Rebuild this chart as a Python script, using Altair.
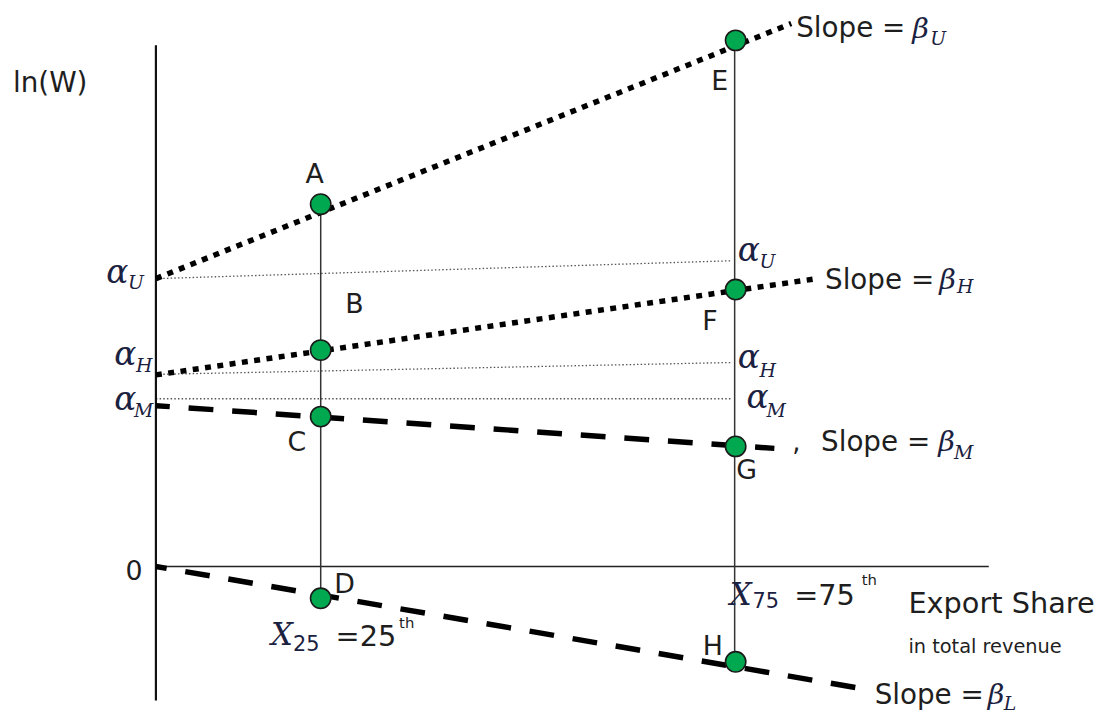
import altair as alt
import pandas as pd

# ---------------- data (x: export share axis units, y: ln(W) units) ----
X25 = 166
X75 = 583

# regression lines: start (intercept at x=0) and end points
line_names = ["U", "H", "M", "L"]
line_x0 = [0, 0, 0, 0]
line_y0 = [290, 193, 162, 0]
line_x1 = [640, 666, 623, 705]
line_y1 = [547, 290, 119, -122]
line_kind = ["dotted", "dotted", "dashed", "dashed"]

# thin guide lines from the intercepts across to X75
guide_x0 = [0, 0, 0]
guide_y0 = [290, 193.5, 169]
guide_x1 = [580, 580, 580]
guide_y1 = [308, 205.5, 169]

# axes and percentile verticals
frame_x0 = [0, 0, X25, X75]
frame_y0 = [525, 0, 363, 530]
frame_x1 = [0, 839, X25, X75]
frame_y1 = [-135, 0, -32, -96]

# points
pt_names = ["A", "B", "C", "D", "E", "F", "G", "H"]
pt_x = [X25, X25, X25, X25, X75 + 1, X75 + 1, X75 + 1, X75 + 1]
pt_y = [365, 218, 151, -32, 530, 279, 121, -96]

# point labels
lab_text = ["A", "B", "C", "D", "E", "F", "G", "H", "0"]
lab_x = [160, 200, 142, 190, 568, 558, 595, 561, -22]
lab_y = [386, 255, 116, -27, 480, 238, 88, -89, -14]

# slope labels
slope_text = ["Slope =", "Slope =", "Slope =", "Slope ="]
slope_x = [645, 674, 670, 724]
slope_y = [533, 280, 116, -139]
beta_x = [762, 789, 788, 838]
beta_y = [532, 280, 116, -139]
beta_sub = ["U", "H", "M", "L"]
beta_sub_x = [780, 807, 804, 854]
beta_sub_y = [525, 276, 108, -145]

# alpha labels (left of axis and at X75)
alpha_x = [-50, -42, -42, 586, 586, 595]
alpha_y = [286, 203, 158, 308, 200, 160]
alpha_sub = ["U", "H", "M", "U", "H", "M"]
alpha_sub_x = [-28, -20, -22, 608, 608, 615]
alpha_sub_y = [280, 196, 151, 301, 191, 151]

# percentile labels
pct_X_x = [116, 578]
pct_X_y = [-79, -39]
pct_sub = ["25", "75"]
pct_sub_x = [138, 601]
pct_sub_y = [-85, -42]
pct_eq = ["=25", "=75"]
pct_eq_x = [181, 643]
pct_eq_y = [-80, -39]
pct_th_x = [245, 711]
pct_th_y = [-62, -19]

# axis titles
ytitle = ("ln(W)", -144, 478)
xtitle = ("Export Share", 758, -47)
xsub = ("in total revenue", 758, -87)
comma = (",", 641, 116)

# ---------------- scales ----------------
W, H = 1096, 710
xs = alt.Scale(domain=[-149, 947], zero=False, nice=False)
ys = alt.Scale(domain=[-150, 560], zero=False, nice=False)

TXT = "#1e1e1e"
GREEK = "#1b2140"


def seg_df(x0, y0, x1, y1):
    return pd.DataFrame({"x": x0, "y": y0, "x2": x1, "y2": y1})


def rules(df, **mk):
    return alt.Chart(df).mark_rule(**mk).encode(
        x=alt.X("x:Q", scale=xs, axis=None),
        y=alt.Y("y:Q", scale=ys, axis=None),
        x2="x2:Q",
        y2="y2:Q",
    )


def texts(tx, x, y, font, size, style="normal", color=TXT, align="left"):
    df = pd.DataFrame({"t": tx, "x": x, "y": y})
    return alt.Chart(df).mark_text(
        font=font, fontSize=size, fontStyle=style, color=color,
        align=align, baseline="alphabetic"
    ).encode(
        x=alt.X("x:Q", scale=xs, axis=None),
        y=alt.Y("y:Q", scale=ys, axis=None),
        text="t:N",
    )


lines = pd.DataFrame({"x": line_x0, "y": line_y0, "x2": line_x1, "y2": line_y1, "kind": line_kind})

frame = rules(seg_df(frame_x0[:1], frame_y0[:1], frame_x1[:1], frame_y1[:1]), color="#111", strokeWidth=2.2)
xaxis = rules(seg_df(frame_x0[1:2], frame_y0[1:2], frame_x1[1:2], frame_y1[1:2]), color="#222", strokeWidth=1.6)
verts = rules(seg_df(frame_x0[2:], frame_y0[2:], frame_x1[2:], frame_y1[2:]), color="#333", strokeWidth=1.5)
guides = rules(seg_df(guide_x0, guide_y0, guide_x1, guide_y1), color="#555", strokeWidth=1.3, strokeDash=[1.5, 2.2])
dotted = rules(lines[lines.kind == "dotted"], color="#000", strokeWidth=5.5, strokeDash=[6, 6.5], strokeCap="butt")
dashed_m = rules(lines[lines.index == 2], color="#000", strokeWidth=5.5, strokeDash=[25, 19],
                 strokeDashOffset=11, strokeCap="butt")
dashed_l = rules(lines[lines.index == 3], color="#000", strokeWidth=5.5, strokeDash=[25, 19],
                 strokeDashOffset=14, strokeCap="butt")

pts = alt.Chart(pd.DataFrame({"n": pt_names, "x": pt_x, "y": pt_y})).mark_point(
    shape="circle", filled=True, size=420, fill="#00a84f", stroke="#1a1a1a", strokeWidth=1.6, opacity=1
).encode(
    x=alt.X("x:Q", scale=xs, axis=None),
    y=alt.Y("y:Q", scale=ys, axis=None),
)

SANS = "DejaVu Sans"
SERIF = "DejaVu Serif"

layers = [
    guides, frame, xaxis, verts, dotted, dashed_m, dashed_l, pts,
    texts(lab_text, lab_x, lab_y, SANS, 27, align="center"),
    texts([ytitle[0]], [ytitle[1]], [ytitle[2]], SANS, 28),
    texts(slope_text, slope_x, slope_y, SANS, 28),
    texts([comma[0]], [comma[1]], [comma[2]], SANS, 26),
    texts([xtitle[0]], [xtitle[1]], [xtitle[2]], SANS, 29),
    texts([xsub[0]], [xsub[1]], [xsub[2]], SANS, 19.5),
    texts(["\u03b2"] * 4, beta_x, beta_y, SERIF, 29, "italic", GREEK),
    texts(beta_sub, beta_sub_x, beta_sub_y, SERIF, 19, "italic", GREEK),
    texts(["\u03b1"] * 6, alpha_x, alpha_y, SERIF, 33, "italic", GREEK),
    texts(alpha_sub, alpha_sub_x, alpha_sub_y, SERIF, 19, "italic", GREEK),
    texts(["X", "X"], pct_X_x, pct_X_y, SERIF, 31, "italic", GREEK),
    texts(pct_sub, pct_sub_x, pct_sub_y, SANS, 21, color=GREEK),
    texts(pct_eq, pct_eq_x, pct_eq_y, SANS, 29),
    texts(["th", "th"], pct_th_x, pct_th_y, SANS, 15),
]

chart = alt.layer(*layers).properties(
    width=W, height=H, padding=0, autosize="none", background="#ffffff",
    view=alt.ViewBackground(stroke="transparent", strokeWidth=0),
).configure_view(stroke="transparent", strokeWidth=0)

chart.save("out.html", embed_options={"renderer": "svg", "actions": False})
